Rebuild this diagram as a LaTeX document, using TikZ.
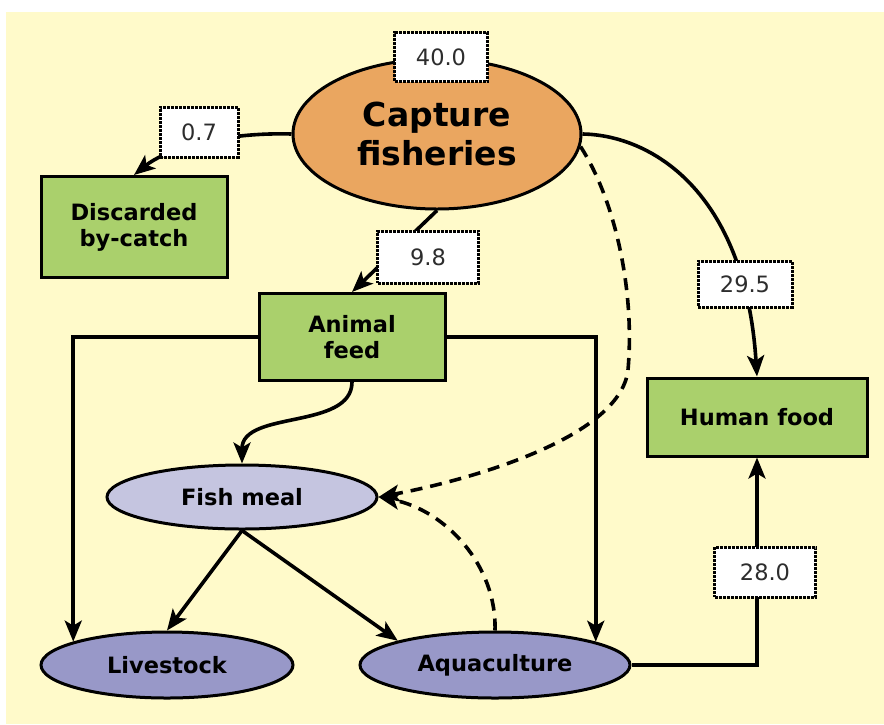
\documentclass[tikz,border=0pt]{standalone}
\usepackage{fontspec}
\setmainfont{DejaVu Sans}
\usetikzlibrary{arrows.meta,shapes.geometric}
\definecolor{bgyellow}{RGB}{255,250,202}
\definecolor{boxgreen}{RGB}{170,208,108}
\definecolor{capOrange}{RGB}{234,166,96}
\definecolor{lightlav}{RGB}{197,197,224}
\definecolor{darklav}{RGB}{152,152,200}
\definecolor{valtext}{RGB}{45,45,45}
\begin{document}
\begin{tikzpicture}[x=1pt,y=-1pt,
  conn/.style={line width=3.6pt,-{Stealth[length=21pt,width=17pt,inset=5pt]}},
  dashconn/.style={conn,dash pattern=on 12pt off 8pt},
  greenbox/.style={draw,line width=3pt,fill=boxgreen,rectangle,inner sep=0pt,align=center,
    font=\bfseries\fontsize{22.5}{26}\selectfont},
  ell/.style={draw,line width=3pt,ellipse,inner sep=0pt,align=center,
    font=\bfseries\fontsize{22.5}{26}\selectfont},
  valbox/.style={draw=black,fill=white,densely dotted,line width=3pt,inner sep=0pt,
    font=\fontsize{22.5}{25}\selectfont,text=valtext}
]
\useasboundingbox (0,0) rectangle (884,724);
\fill[white] (0,0) rectangle (884,724);
\fill[bgyellow] (6,12) rectangle (884,724);

% main nodes
\node[ell,fill=capOrange,minimum width=288pt,minimum height=150pt,
  font=\bfseries\fontsize{33}{39}\selectfont] (cap) at (437,134) {Capture\\fisheries};
\node[greenbox,minimum width=186pt,minimum height=101pt] (disc) at (134,227) {Discarded\\by-catch};
\node[greenbox,minimum width=186pt,minimum height=87pt] (af) at (352,337) {Animal\\feed};
\node[greenbox,minimum width=220pt,minimum height=78pt] (hf) at (757,417) {Human food};
\node[ell,fill=lightlav,minimum width=270pt,minimum height=64pt] (fm) at (242,497) {Fish meal};
\node[ell,fill=darklav,minimum width=252pt,minimum height=66pt] (ls) at (167,665) {Livestock};
\node[ell,fill=darklav,minimum width=270pt,minimum height=66pt] (aq) at (495,665) {Aquaculture};

% connectors
\draw[conn] (cap.west) .. controls (220,132) and (165,150) .. (disc.north);
\draw[conn] (cap.south) -- (af.north);
\draw[conn] (cap.east) .. controls (650,135) and (745,190) .. (hf.north);
\draw[dashconn] (cap.-5) .. controls (615,200) and (635,290) .. (628,370)
   .. controls (620,440) and (460,482) .. (fm.east);
\draw[dashconn] (aq.north) .. controls (497,565) and (445,510) .. (fm.east);
\draw[conn] (af.south) .. controls (352,430) and (242,410) .. (fm.north);
\draw[conn] (af.west) -| (ls.166);
\draw[conn] (af.east) -| (aq.13);
\draw[conn] (fm.south) -- (ls.north);
\draw[conn] (fm.south) -- (aq.166);
\draw[conn] (aq.east) -| (hf.south);

% value boxes
\node[valbox,minimum width=93pt,minimum height=49pt] (v40) at (441,57) {40.0};
\node[valbox,minimum width=78pt,minimum height=50pt] (v07) at (199,132) {0.7};
\node[valbox,minimum width=101pt,minimum height=52pt] (v98) at (428,257) {9.8};
\node[valbox,minimum width=94pt,minimum height=46pt] (v295) at (745,284) {29.5};
\node[valbox,minimum width=101pt,minimum height=50pt] (v28) at (765,572) {28.0};
\end{tikzpicture}
\end{document}
